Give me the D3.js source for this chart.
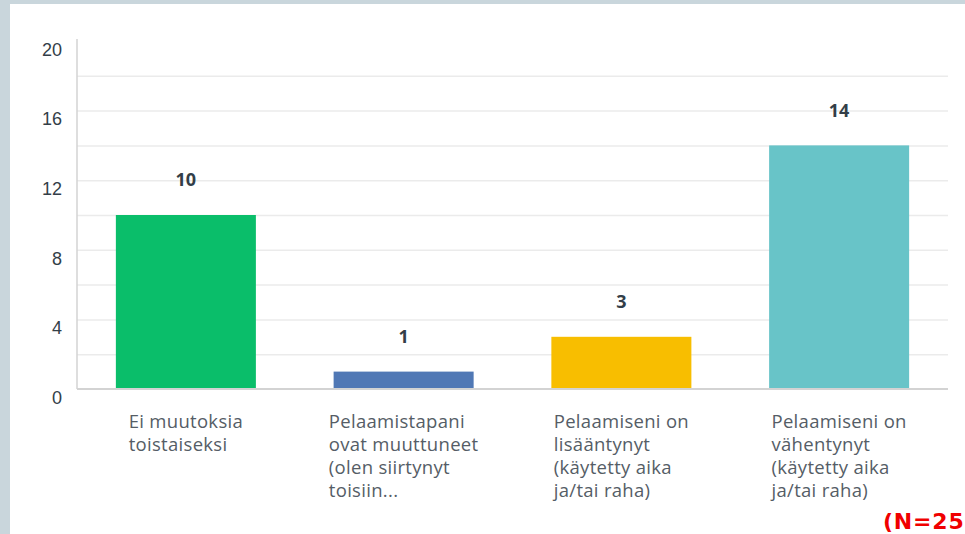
<!DOCTYPE html>
<html>
<head>
<meta charset="utf-8">
<script src="https://cdn.jsdelivr.net/npm/d3@7"></script>
<style>
  html, body { margin: 0; padding: 0; background: #c9d6dc; }
  svg { display: block; font-family: "Open Sans", sans-serif; }
  .grid line { stroke: #ebebeb; stroke-width: 1.5; }
  .grid path { display: none; }
  .yaxis text { fill: #333e48; font-size: 18px; }
  .cat { fill: #555d66; font-size: 18.5px; letter-spacing: 0.3px; }
  .val { fill: #333e48; font-size: 18px; font-weight: 700; }
  .note { fill: #f00000; font-family: "DejaVu Sans", sans-serif; font-size: 22px; font-weight: 700; letter-spacing: 0.8px; }
</style>
</head>
<body>
<div id="chart"></div>
<script>
var categories = [
  ["Ei muutoksia", "toistaiseksi"],
  ["Pelaamistapani", "ovat muuttuneet", "(olen siirtynyt", "toisiin..."],
  ["Pelaamiseni on", "lisääntynyt", "(käytetty aika", "ja/tai raha)"],
  ["Pelaamiseni on", "vähentynyt", "(käytetty aika", "ja/tai raha)"]
]
var values = [10, 1, 3, 14]
var colors = ["#0abe6a", "#5078b5", "#f8be00", "#68c4c8"]
var yTicks = [0, 4, 8, 12, 16, 20]
var gridTicks = [2, 4, 6, 8, 10, 12, 14, 16, 18]
var note = "(N=25)"

var W = 965, H = 534
var svg = d3.select('#chart').append('svg').attr('width', W).attr('height', H)

svg.append('rect').attr('width', W).attr('height', H).attr('fill', '#c9d6dc')
svg.append('rect').attr('x', 10).attr('y', 4).attr('width', W - 10).attr('height', H - 4).attr('fill', '#fff')

var plotLeft = 77, plotRight = 948, plotTop = 41, plotBottom = 389

var x = d3.scaleBand()
  .domain(d3.range(values.length))
  .range([plotLeft, plotRight])
  .paddingInner(0.357)
  .paddingOuter(0.1785)

var y = d3.scaleLinear().domain([0, 20]).range([plotBottom, plotTop])

// gridlines
svg.append('g')
  .attr('class', 'grid')
  .attr('transform', 'translate(' + plotLeft + ',0)')
  .call(d3.axisLeft(y).tickValues(gridTicks).tickSize(-(plotRight - plotLeft)).tickFormat(''))

// y tick labels, sitting a bit below their lines
var yAxis = svg.append('g')
  .attr('class', 'yaxis')
  .attr('transform', 'translate(' + (plotLeft - 15) + ',0)')
  .call(d3.axisLeft(y).tickValues(yTicks).tickSize(0).tickPadding(0))
yAxis.select('.domain').remove()
yAxis.selectAll('text').attr('dy', '0.35em').attr('y', 8)

// bars
svg.selectAll('rect.bar').data(values).join('rect')
  .attr('class', 'bar')
  .attr('x', (d, i) => x(i))
  .attr('width', x.bandwidth())
  .attr('y', d => y(d))
  .attr('height', d => y(0) - y(d))
  .attr('fill', (d, i) => colors[i])

// axis lines
svg.append('line').attr('x1', plotLeft).attr('x2', plotLeft).attr('y1', plotTop - 2).attr('y2', plotBottom)
  .attr('stroke', '#d3d3d3').attr('stroke-width', 1.5)
svg.append('line').attr('x1', plotLeft).attr('x2', plotRight).attr('y1', y(0)).attr('y2', y(0))
  .attr('stroke', '#d3d3d3').attr('stroke-width', 2)

// value labels
svg.selectAll('text.val').data(values).join('text')
  .attr('class', 'val')
  .attr('x', (d, i) => x(i) + x.bandwidth() / 2)
  .attr('y', d => y(d) - 35)
  .attr('dy', '0.35em')
  .attr('text-anchor', 'middle')
  .text(d => d)

// category labels: left aligned block centred under each bar
categories.forEach(function(lines, i){
  var t = svg.append('text').attr('class', 'cat')
  lines.forEach(function(l, j){
    t.append('tspan').attr('y', 422 + j * 22.7).attr('dy', '0.35em').text(l)
  })
  var maxW = d3.max(t.selectAll('tspan').nodes(), n => n.getComputedTextLength())
  t.selectAll('tspan').attr('x', x(i) + x.bandwidth() / 2 - maxW / 2)
})

// sample size note, runs off the right edge like the original
svg.append('text')
  .attr('class', 'note')
  .attr('x', 883).attr('y', 521).attr('dy', '0.35em')
  .text(note)
</script>
</body>
</html>
